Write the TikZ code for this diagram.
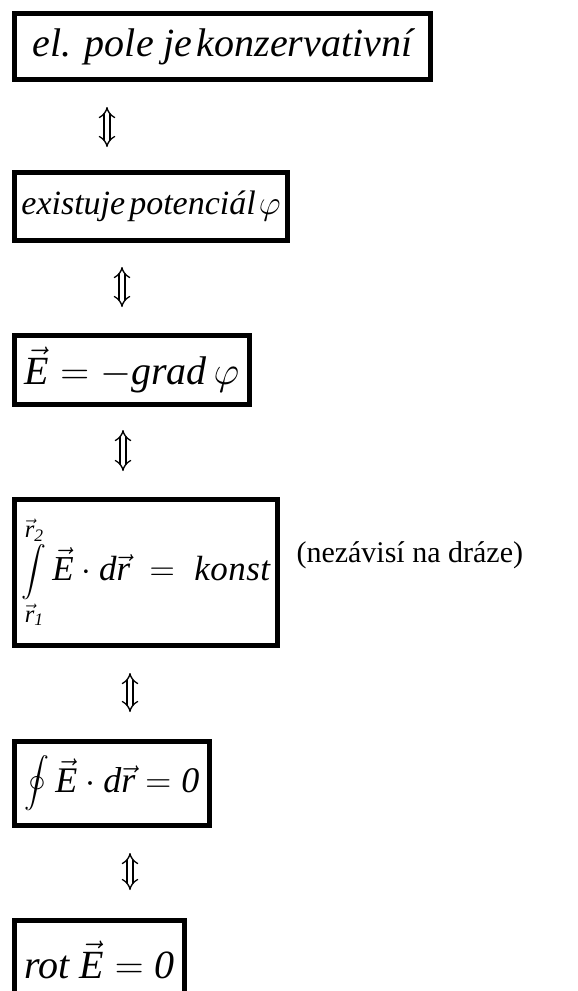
\RequirePackage{fix-cm}
\documentclass[tikz,border=0pt]{standalone}
\usepackage{amsmath}
\usepackage{exscale}
\usepackage{fontspec}
\setmainfont{Liberation Serif}
\usetikzlibrary{arrows.meta}
\newcommand{\iv}[1]{\text{\itshape #1}}
\newcommand{\vv}[1]{\vec{\text{\itshape #1}}}
\tikzset{
  box/.style={draw=black, line width=5pt, rectangle, inner sep=0pt, anchor=center},
  eqv/.style={double=white, double distance=4.5pt, line width=1.3pt, {Implies}-{Implies}},
  big/.style={font=\fontsize{#1}{46}\selectfont\itshape},
  bigm/.style={font=\fontsize{#1}{46}\selectfont},
  note/.style={font=\fontsize{30}{36}\selectfont, anchor=west}
}
\begin{document}
\begin{tikzpicture}[x=1pt,y=-1pt]
\useasboundingbox (0,0) rectangle (578,991);
% boxes
\node[box, minimum width=416pt, minimum height=66pt, big=40] (b1) at (222.5,46.5) {el. pole je\hspace{4pt}konzervativní};
\node[box, minimum width=273pt, minimum height=68pt, big=34] (b2) at (151,206.5) {existuje\hspace{4pt}potenciál\hspace{3pt}$\varphi$};
\node[box, minimum width=235pt, minimum height=69pt, bigm=40] (b3) at (132,370) {$\vv{E} = -\iv{grad}\,\varphi$};
\node[box, minimum width=263pt, minimum height=146pt, bigm=35] (b4) at (146,572.5) {$\displaystyle\mathop{\int}\limits^{\vv{r}_{\iv{2}}}_{\vv{r}_{\iv{1}}}\vv{E}\cdot \iv{d}\vv{r} \;=\; \iv{k\kern0.5pt o\kern0.5pt n\kern0.5pt s\kern0.5pt t}$};
\node[note] (n4) at (293,555) {(nezávisí na dráze)};
\node[box, minimum width=195pt, minimum height=84pt, bigm=36] (b5) at (112,783.5) {$\displaystyle\oint\vv{E}\cdot \iv{d}\vv{r} = \iv{0}$};
\node[box, minimum width=170pt, minimum height=80pt, bigm=40] (b6) at (99.5,960) {$\iv{rot}\ \vv{E} = \iv{0}$};
% equivalence arrows
\coordinate (a1t) at (107,107); \coordinate (a1b) at (107,147);
\coordinate (a2t) at (122,267); \coordinate (a2b) at (122,307);
\coordinate (a3t) at (123,430); \coordinate (a3b) at (123,471);
\coordinate (a4t) at (130,673); \coordinate (a4b) at (130,712);
\coordinate (a5t) at (130,853); \coordinate (a5b) at (130,890);
\draw[eqv] (a1t) -- (a1b);
\draw[eqv] (a2t) -- (a2b);
\draw[eqv] (a3t) -- (a3b);
\draw[eqv] (a4t) -- (a4b);
\draw[eqv] (a5t) -- (a5b);
\end{tikzpicture}
\end{document}
